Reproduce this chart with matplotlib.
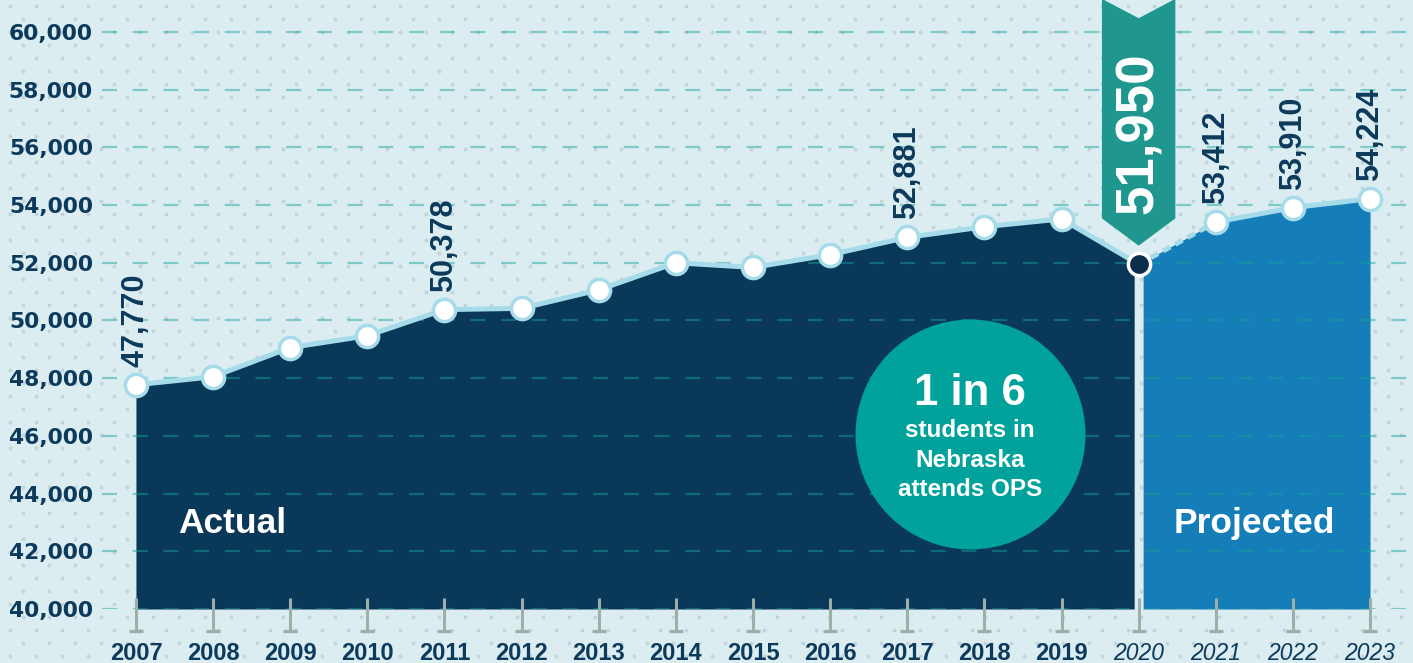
import numpy as np
import matplotlib
matplotlib.use("Agg")
from matplotlib import pyplot as plt

# enrollment (labelled years use the printed value)
years = [2007, 2008, 2009, 2010, 2011, 2012, 2013, 2014, 2015, 2016,
         2017, 2018, 2019, 2020, 2021, 2022, 2023]
enrollment = [47770, 48050, 49060, 49470, 50378, 50420, 51060, 52000, 51840,
              52280, 52881, 53250, 53520, 51950, 53412, 53910, 54224]
projected_from = 2020
labelled_years = [2007, 2011, 2017, 2021, 2022, 2023]
highlight_year = 2020
yticks = list(range(40000, 60001, 2000))
note_lines = ["students in", "Nebraska", "attends OPS"]

NAVY = "#0a3858"
BLUE = "#157db7"
TEAL = "#00a29b"
BANNER = "#1f978f"
LINE = "#a6dbea"
TEXT = "#0c3a5c"
BG = "#dcedf2"

plt.rcParams["lines.scale_dashes"] = False

fig = plt.figure(figsize=(14.13, 6.63), dpi=100, facecolor=BG)

# dotted paper texture behind everything
bg = fig.add_axes([0, 0, 1, 1], zorder=0)
bg.set_xlim(0, 1413)
bg.set_ylim(663, 0)
bg.axis("off")
dx, dy = [], []
for r, yy in enumerate(np.arange(6, 663, 13)):
    for xx in np.arange(10 + 13 * (r % 2), 1413, 26):
        dx.append(xx)
        dy.append(yy)
bg.scatter(dx, dy, s=8, color="#c2d5da", linewidths=0)

ax = fig.add_axes([102 / 1413, 54 / 663, 1311 / 1413, 609 / 663], zorder=1)
ax.set_facecolor("none")
ax.set_xlim(2006.56, 2023.557)
ax.set_ylim(40000, 61109)
for s in ax.spines.values():
    s.set_visible(False)

x = np.array(years, dtype=float)
y = np.array(enrollment, dtype=float)
gap = 0.058
split = years.index(projected_from)

# actual area
xa = np.append(x[:split], projected_from - gap)
ya = np.append(y[:split], np.interp(projected_from - gap, x, y))
ax.fill_between(xa, 40000, ya, color=NAVY, zorder=1, linewidth=0)
# projected area
xp = np.insert(x[split + 1:], 0, projected_from + gap)
yp = np.insert(y[split + 1:], 0, np.interp(projected_from + gap, x, y))
ax.fill_between(xp, 40000, yp, color=BLUE, zorder=1, linewidth=0)

# grid
ax.set_axisbelow(False)
ax.grid(axis="y", color="#14a39a", alpha=0.47, linewidth=1.6,
        linestyle=(0, (10.8, 11.3)))
ax.grid(axis="x", visible=False)

# line
ax.plot(x[:split + 1], y[:split + 1], color=LINE, lw=3.6, zorder=3,
        solid_capstyle="round")
ax.plot(x[split:split + 2], y[split:split + 2], color=LINE, lw=3.6, zorder=3,
        linestyle=(0, (6, 4)))
ax.plot(x[split + 1:], y[split + 1:], color=LINE, lw=3.6, zorder=3)

mask = x != highlight_year
ax.plot(x[mask], y[mask], linestyle="none", marker="o", ms=16,
        mfc="white", mec=LINE, mew=2.5, zorder=4)
ax.plot([highlight_year], [enrollment[split]], linestyle="none", marker="o",
        ms=16, mfc="#0b2e4a", mec="white", mew=2.5, zorder=4)

# value labels
for yr in labelled_years:
    v = enrollment[years.index(yr)]
    ax.annotate(f"{v:,}", (yr, v), xytext=(0, 13), textcoords="offset points",
                rotation=90, ha="center", va="bottom", color=TEXT,
                family="Liberation Sans", fontweight="bold", fontsize=22,
                zorder=6)

# banner for 2020
trans = ax.get_xaxis_transform()
hw = 0.467
bx = [highlight_year - hw, highlight_year, highlight_year + hw,
      highlight_year + hw, highlight_year, highlight_year - hw]
by = [1.0, 0.9688, 1.0, 0.642, 0.598, 0.642]
ax.fill(bx, by, color=BANNER, transform=trans, zorder=5, clip_on=False)
ax.text(highlight_year, 0.7816, f"{enrollment[split]:,}", transform=trans,
        rotation=90, ha="center", va="center", color="white",
        family="Liberation Sans", fontweight="bold", fontsize=38, zorder=6)

# circle callout
cx, cy = 2017.81, 46066
ax.scatter([cx], [cy], s=165.6 ** 2, color=TEAL, linewidths=0, zorder=5)
ax.annotate("1 in 6", (cx, cy), xytext=(0, 28.8), textcoords="offset points",
            ha="center", va="center", color="white", family="Liberation Sans",
            fontweight="bold", fontsize=31.5, zorder=6)
for i, line in enumerate(note_lines):
    ax.annotate(line, (cx, cy), xytext=(0, 2.2 - 21 * i),
                textcoords="offset points", ha="center", va="center",
                color="white", family="Liberation Sans", fontweight="bold",
                fontsize=17.5, zorder=6)

ax.text(2007.544, 0.1412, "Actual", transform=trans, ha="left", va="center",
        color="white", family="Liberation Sans", fontweight="bold",
        fontsize=25.5, zorder=6)
ax.text(2021.50, 0.1412, "Projected", transform=trans, ha="center",
        va="center", color="white", family="Liberation Sans",
        fontweight="bold", fontsize=25.5, zorder=6)

# T-shaped year ticks
ax.vlines(years, -0.036, 0.018, color="#9eaea9", lw=2.2, transform=trans,
          clip_on=False, zorder=4)
ax.plot(years, [-0.036] * len(years), linestyle="none", marker="_", ms=10,
        mew=2.4, color="#9eaea9", transform=trans, clip_on=False, zorder=4)

# axes ticks
ax.set_yticks(yticks, labels=[f"{t:,}" for t in yticks], family="DejaVu Sans",
              fontweight="bold", fontsize=15.7, color=TEXT)
ax.set_xticks(years, labels=[str(yr) for yr in years],
              family="Liberation Sans", fontweight="bold", fontsize=17,
              color=TEXT)
for lbl, yr in zip(ax.get_xticklabels(), years):
    if yr >= projected_from:
        lbl.set_fontstyle("italic")
        lbl.set_fontweight("normal")
        lbl.set_fontsize(16.5)
ax.tick_params(axis="y", length=0, pad=6.5)
ax.tick_params(axis="x", length=0, pad=24)

fig.savefig("out.png", dpi=100, facecolor=BG)
